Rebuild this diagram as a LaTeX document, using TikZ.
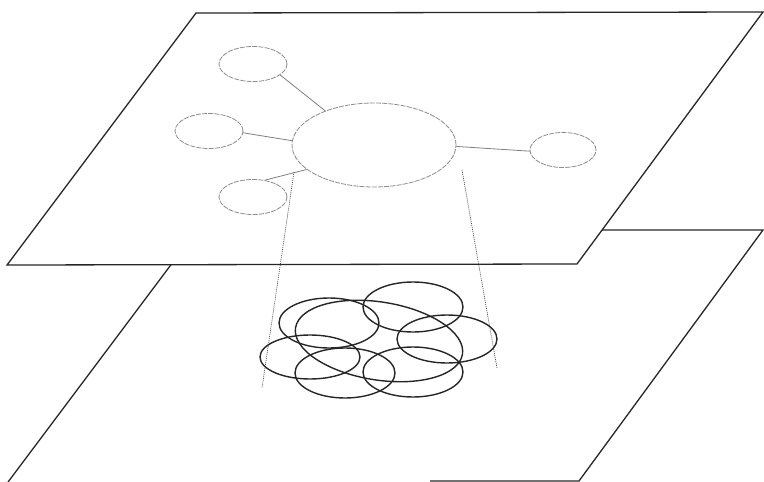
\documentclass[tikz,border=0pt]{standalone}
\usetikzlibrary{shapes.geometric}
\begin{document}
\begin{tikzpicture}[x=1pt,y=-1pt,
  planeedge/.style={draw=black!85,line width=1.3pt,line join=miter},
  topell/.style={ellipse,draw=black!45,line width=0.8pt,dash pattern=on 5pt off 1.2pt,inner sep=0pt},
  smallell/.style={topell,minimum width=68pt,minimum height=35pt},
  topconn/.style={draw=black!50,line width=0.8pt},
  projline/.style={draw=black!70,line width=0.7pt,dash pattern=on 1pt off 1pt},
  cell/.style={ellipse,draw=black!85,line width=1.4pt,inner sep=0pt,minimum width=100pt,minimum height=50pt}]
\useasboundingbox (0,0) rectangle (764,482);
% lower plane
\draw[planeedge] (8,482) -- (197,230) -- (763,230) -- (579,481) -- (430,481);
% upper plane (opaque)
\draw[planeedge,fill=white] (196,13) -- (763,12) -- (577,264) -- (7,265) -- cycle;
% upper graph
\node[topell,minimum width=164pt,minimum height=84pt] (big) at (374,145) {};
\node[smallell] (t1) at (253,64) {};
\node[smallell] (t2) at (209,131) {};
\node[smallell] (t3) at (253,197) {};
\node[smallell,minimum width=66pt] (t4) at (563,150) {};
\draw[topconn] (t1.-22) -- (big.145);
\draw[topconn] (t2.-3) -- (big.177);
\draw[topconn] (t3.55) -- (big.200);
\draw[topconn] (big.-1) -- (t4.182);
% projection lines
\coordinate (pl1) at (294,172);
\coordinate (pl2) at (262,388);
\coordinate (pr1) at (462,170);
\coordinate (pr2) at (497,368);
\draw[projline] (pl1) -- (pl2);
\draw[projline] (pr1) -- (pr2);
% lower cluster
\node[cell] (c1) at (329,323) {};
\node[cell] (c2) at (413,307) {};
\node[cell,minimum height=48pt] (c3) at (447,339) {};
\node[cell,minimum height=44pt] (c4) at (310,357) {};
\node[cell] (c5) at (345,373) {};
\node[cell] (c6) at (413,372) {};
\node[cell,minimum width=169pt,minimum height=78pt,rotate=-9] (c0) at (379,341) {};
\end{tikzpicture}
\end{document}
